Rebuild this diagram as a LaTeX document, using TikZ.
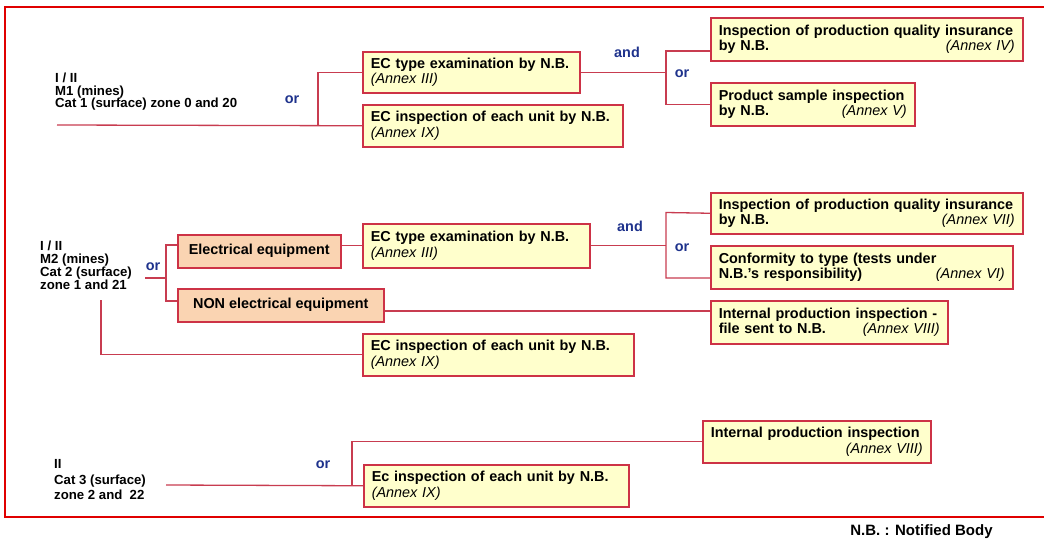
\documentclass[tikz,border=0pt]{standalone}
\usepackage{fontspec}
\setmainfont{Liberation Sans}
\definecolor{framered}{RGB}{224,0,0}
\definecolor{boxred}{RGB}{205,50,70}
\definecolor{linred}{RGB}{200,60,80}
\definecolor{boxyel}{RGB}{255,255,204}
\definecolor{boxor}{RGB}{250,212,178}
\definecolor{conjblue}{RGB}{30,50,140}
\newcommand\boxfont{\fontsize{14.4}{15.5}\selectfont\bfseries}
\newcommand\conjfont{\fontsize{14.4}{15.5}\selectfont\bfseries}
\newcommand\ann[1]{{\mdseries\itshape #1}}
\begin{document}
\begin{tikzpicture}[x=1pt,y=-1pt,
  box/.style={draw=boxred, line width=1.5pt, fill=boxyel, anchor=north west, inner xsep=8pt, inner ysep=0pt, align=left, font=\boxfont},
  obox/.style={box, fill=boxor, align=center},
  lnk/.style={draw=linred, line width=1.3pt},
  framebox/.style={draw=framered, line width=2pt},
  lt/.style={inner sep=0pt, align=left, anchor=west},
  conj/.style={text=conjblue, font=\conjfont, inner sep=0pt}]
\useasboundingbox (0,0) rectangle (1044,541);
\clip (0,0) rectangle (1044,541);
\draw[framebox] (5,7) rectangle (1056,517);

% ---------- Section 1 ----------
\node[lt, font=\fontsize{13.2}{12.5}\selectfont\bfseries] (s1) at (55,92)
  {I / II\\M1 (mines)\\Cat 1 (surface) zone 0 and 20};
\node[box, text width=201pt, minimum height=41pt] (b1a) at (362,51)
  {EC type examination by N.B.\\\ann{(Annex III)}};
\node[box, text width=244pt, minimum height=42pt] (b1b) at (362,104)
  {EC inspection of each unit by N.B.\\\ann{(Annex IX)}};
\node[box, text width=296pt, minimum height=43pt] (b1c) at (710,17)
  {Inspection of production quality insurance\\by N.B.\hfill\ann{(Annex IV)}\hspace*{12pt}};
\node[box, text width=188pt, minimum height=43pt] (b1d) at (710,82)
  {Product sample inspection\\by N.B.\hfill\ann{(Annex V)}\hspace*{15pt}};
\node[conj] (or1) at (292,100) {or};
\node[conj] (and1) at (627,52) {and};
\node[conj] (or2) at (682,74) {or};
\coordinate (c1s) at (57,125);
\coordinate (j1) at (318,125);
\coordinate (k1t) at (666,51);
\draw[lnk] (c1s) -- (b1b.west);
\draw[lnk] (j1) |- (b1a.west);
\draw[lnk] (b1a.east) -- (b1a.east -| k1t);
\draw[lnk] (b1c.west |- k1t) -- (k1t) -- (k1t |- b1d.west) -- (b1d.west);

% ---------- Section 2 ----------
\node[lt, font=\fontsize{13.2}{13}\selectfont\bfseries] (s2) at (40,265.5)
  {I / II\\M2 (mines)\\Cat 2 (surface)\\zone 1 and 21};
\node[obox, minimum width=163pt, minimum height=33pt] (e1) at (177,234)
  {Electrical equipment};
\node[obox, minimum width=206pt, minimum height=33pt] (e2) at (177,288)
  {NON electrical equipment};
\node[box, text width=211pt, minimum height=44pt] (b2a) at (362,223)
  {EC type examination by N.B.\\\ann{(Annex III)}};
\node[box, text width=296pt, minimum height=41pt] (b2c) at (710,192)
  {Inspection of production quality insurance\\by N.B.\hfill\ann{(Annex VII)}\hspace*{21pt}};
\node[box, text width=286pt, minimum height=43pt] (b2d) at (710,245)
  {Conformity to type (tests under\\N.B.’s responsibility)\hfill\ann{(Annex VI)}\hspace*{11pt}};
\node[box, text width=221pt, minimum height=43pt] (b2e) at (710,300)
  {Internal production inspection -\\file sent to N.B.\hfill\ann{(Annex VIII)}\hspace*{14pt}};
\node[box, text width=255pt, minimum height=42pt] (b2f) at (362,333)
  {EC inspection of each unit by N.B.\\\ann{(Annex IX)}};
\node[conj] (or5) at (153,267) {or};
\node[conj] (and2) at (630,226) {and};
\node[conj] (or3) at (682,248) {or};
\coordinate (c2s) at (145,278);
\coordinate (j2) at (166,278);
\coordinate (j2t) at (166,245);
\coordinate (j2b) at (166,301);
\coordinate (k2t) at (666,212.5);
\coordinate (k2b) at (666,278);
\coordinate (n2) at (0,311);
\coordinate (c2v) at (101,300);
\draw[lnk] (c2s) -- (j2);
\draw[lnk] (e1.west |- j2t) -- (j2t) -- (j2b) -- (e2.west |- j2b);
\draw[lnk] (e1.east |- b2a.west) -- (b2a.west);
\draw[lnk] (b2a.east) -- (b2a.east -| k2t);
\draw[lnk] (b2c.west) -- (k2t) -- (k2b) -- (k2b -| b2d.west);
\draw[lnk] (e2.east |- n2) -- (b2e.west |- n2);
\draw[lnk] (c2v) |- (b2f.west);

% ---------- Section 3 ----------
\node[lt, font=\fontsize{13.2}{15.5}\selectfont\bfseries] (s3) at (54,480)
  {II\\Cat 3 (surface)\\zone 2 and~ 22};
\node[box, text width=212pt, minimum height=42pt] (b3a) at (702,420)
  {Internal production inspection\\\hfill\ann{(Annex VIII)}\hspace*{15pt}};
\node[box, text width=249pt, minimum height=42pt] (b3b) at (363,464)
  {Ec inspection of each unit by N.B.\\\ann{(Annex IX)}};
\node[conj] (or4) at (323,465) {or};
\coordinate (c3s) at (166,485);
\coordinate (j3) at (352,485);
\draw[lnk] (c3s) -- (b3b.west);
\draw[lnk] (j3) |- (b3a.west);

% ---------- Footer ----------
\node[inner sep=0pt, font=\fontsize{15}{17}\selectfont\bfseries] (fn) at (921.5,532) {N.B. : Notified Body};
\end{tikzpicture}
\end{document}
